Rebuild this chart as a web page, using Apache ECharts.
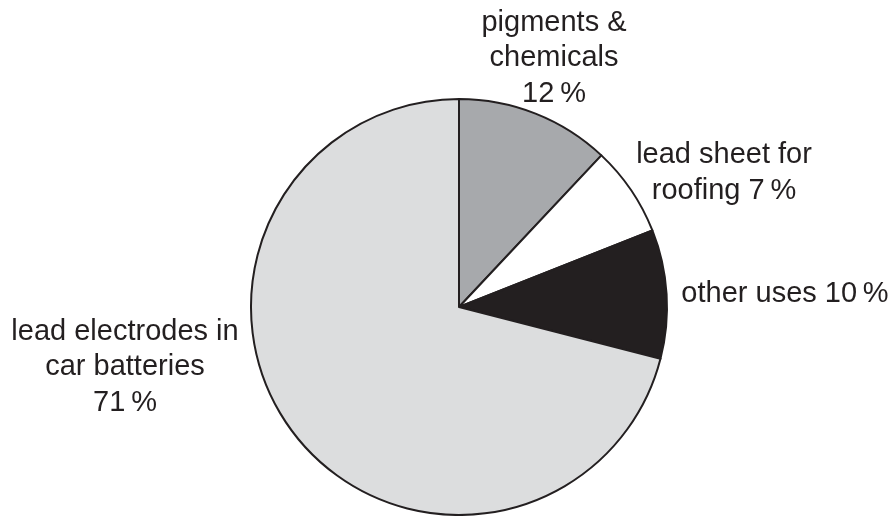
<!DOCTYPE html>
<html><head><meta charset="utf-8">
<script src="https://cdn.jsdelivr.net/npm/echarts@6/dist/echarts.min.js"></script>
<style>html,body{margin:0;padding:0;background:#fff;}#c{width:894px;height:516px;}</style>
</head><body><div id="c"></div>
<script>
var categories = ['pigments &\nchemicals', 'lead sheet for\nroofing', 'other uses', 'lead electrodes in\ncar batteries'];
var values = [12, 7, 10, 71];
var colors = ['#a7a9ac', '#ffffff', '#231f20', '#dcddde'];
var separators = ['\n', ' ', ' ', '\n'];
var labelPos = [[554, 58], [724, 173], [785, 294], [125, 367]];

var chart = echarts.init(document.getElementById('c'), null, {renderer: 'canvas'});
chart.setOption({
  animation: false,
  series: [{
    type: 'pie',
    center: [459, 307],
    radius: 208,
    startAngle: 90,
    clockwise: true,
    silent: true,
    data: values.map(function (v, i) {
      return {value: v, name: categories[i], itemStyle: {color: colors[i]}};
    }),
    itemStyle: {borderColor: '#231f20', borderWidth: 2},
    labelLine: {show: false},
    label: {
      show: true,
      formatter: function (p) { return p.name + separators[p.dataIndex] + p.value + '\u2009%'; },
      fontFamily: 'Liberation Sans, Arial, sans-serif',
      fontSize: 29,
      lineHeight: 35.5,
      color: '#231f20',
      align: 'center',
      overflow: 'none'
    },
    labelLayout: function (p) {
      return {x: labelPos[p.dataIndex][0], y: labelPos[p.dataIndex][1], align: 'center', verticalAlign: 'middle', width: 400};
    }
  }]
});
</script></body></html>
